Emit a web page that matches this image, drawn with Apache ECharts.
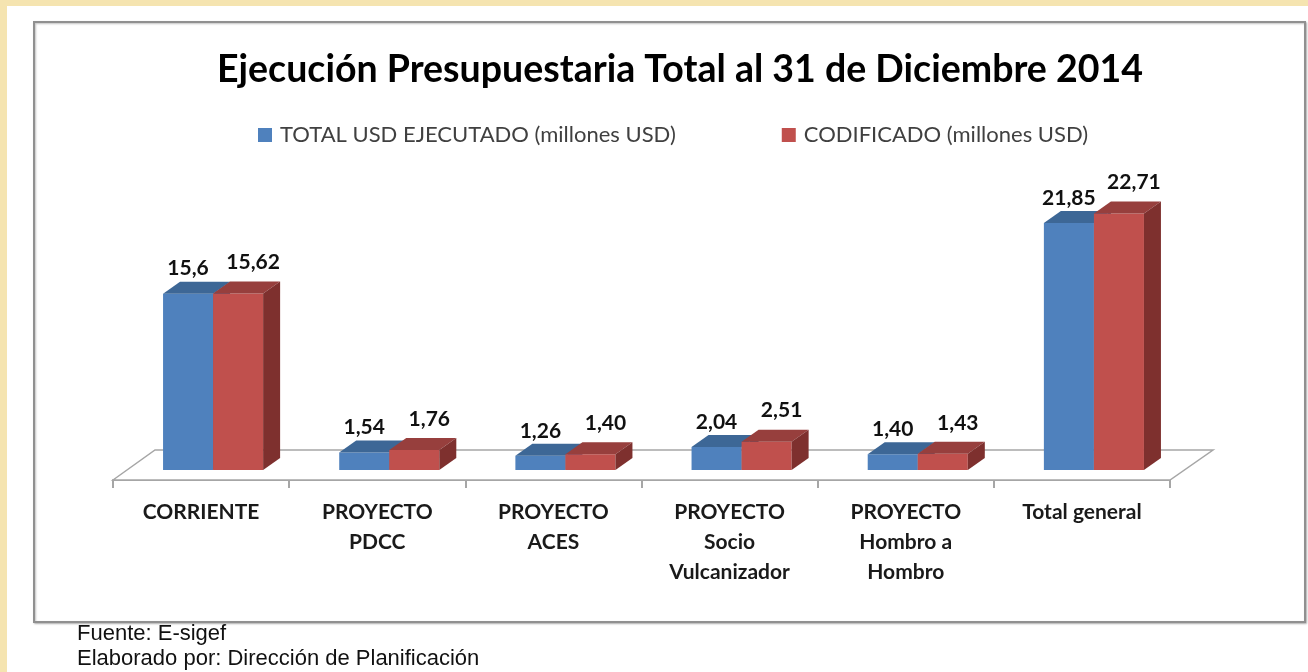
<!DOCTYPE html>
<html>
<head>
<meta charset="utf-8">
<script src="https://cdn.jsdelivr.net/npm/echarts@6/dist/echarts.min.js"></script>
<style>
  html, body { margin: 0; padding: 0; background: #f5e4b0; }
  #chart { width: 1308px; height: 672px; }
</style>
</head>
<body>
<div id="chart"></div>
<script>
// --- data ---
var categorias = ['CORRIENTE', 'PROYECTO\nPDCC', 'PROYECTO\nACES', 'PROYECTO\nSocio\nVulcanizador', 'PROYECTO\nHombro a\nHombro', 'Total general'];
var ejecutado = [15.6, 1.54, 1.26, 2.04, 1.40, 21.85];
var codificado = [15.62, 1.76, 1.40, 2.51, 1.43, 22.71];
var ejecutadoTxt = ['15,6', '1,54', '1,26', '2,04', '1,40', '21,85'];
var codificadoTxt = ['15,62', '1,76', '1,40', '2,51', '1,43', '22,71'];
var nombres = ['TOTAL USD EJECUTADO (millones USD)', 'CODIFICADO (millones USD)'];

// colours: front, top, side
var azul = ['#4f81bd', '#3d6796', '#37598a'];
var rojo = ['#c0504d', '#973f3d', '#7e302e'];

var chart = echarts.init(document.getElementById('chart'));

// 3D bar: front face + top + right side
function bar3d(colors, labels, second) {
  return function (params, api) {
    var i = api.value(0);
    var top = api.coord([i, api.value(1)]);
    var base = api.coord([i, 0]);
    var band = api.size([1, 0])[0];
    var bw = band * 0.284;
    var x0 = second ? top[0] : top[0] - bw;
    var x1 = x0 + bw;
    var dx = 17, dy = 12;
    return {
      type: 'group',
      children: [
        { type: 'rect', shape: { x: x0, y: top[1], width: bw, height: base[1] - top[1] },
          style: { fill: colors[0] } },
        { type: 'polygon', shape: { points: [[x0, top[1]], [x0 + dx, top[1] - dy], [x1 + dx, top[1] - dy], [x1, top[1]]] },
          style: { fill: colors[1] } },
        { type: 'polygon', shape: { points: [[x1, top[1]], [x1 + dx, top[1] - dy], [x1 + dx, base[1] - dy], [x1, base[1]]] },
          style: { fill: colors[2] } },
        { type: 'text', x: (x0 + x1) / 2 + (second ? 15 : 0), y: top[1] - (second ? 31 : 25),
          style: { text: labels[i], fill: '#111', font: 'bold 21px Lato', align: 'center', verticalAlign: 'middle' } }
      ]
    };
  };
}

// floor of the 3D plot
function floor(params, api) {
  var band = api.size([1, 0])[0];
  var l = api.coord([0, 0]);
  var r = api.coord([categorias.length - 1, 0]);
  var lx = l[0] - band / 2, rx = r[0] + band / 2, y0 = l[1];
  return {
    type: 'polygon',
    shape: { points: [[lx - 12, y0 + 10], [lx + 30, y0 - 20], [rx + 31, y0 - 20], [rx - 12, y0 + 10]] },
    style: { fill: '#fff', stroke: '#a6a6a6', lineWidth: 1.5 }
  };
}

chart.setOption({
  backgroundColor: '#f5e4b0',
  color: [azul[0], rojo[0]],
  graphic: [
    { type: 'rect', shape: { x: 7, y: 6, width: 1310, height: 680 }, style: { fill: '#fff' }, z: -10 },
    { type: 'rect', shape: { x: 34, y: 22, width: 1271, height: 600 },
      style: { fill: '#fff', stroke: '#909090', lineWidth: 2, shadowBlur: 2, shadowColor: 'rgba(0,0,0,0.25)', shadowOffsetX: 1, shadowOffsetY: 1 }, z: -9 },
    { type: 'text', left: 77, top: 623, style: { text: 'Fuente: E-sigef', font: '22px "Liberation Sans"', fill: '#111' } },
    { type: 'text', left: 77, top: 648, style: { text: 'Elaborado por: Dirección de Planificación', font: '22px "Liberation Sans"', fill: '#111' } }
  ],
  title: {
    text: 'Ejecución Presupuestaria Total al 31 de Diciembre 2014',
    left: 675, top: 46, textAlign: 'center',
    textStyle: { fontFamily: 'Lato', fontWeight: 'bold', fontSize: 37.5, color: '#000' }
  },
  legend: {
    data: nombres,
    left: 253, top: 119,
    icon: 'rect', itemWidth: 14, itemHeight: 14, itemGap: 106, itemStyle: { borderWidth: 0 },
    textStyle: { fontFamily: 'Lato', fontSize: 22, color: '#404040', padding: [0, 0, 0, 3] }
  },
  grid: [
    { left: 125, right: 126, top: 187.5, bottom: 202 },
    { left: 113, right: 138, top: 187.5, bottom: 192 }
  ],
  xAxis: [
    { type: 'category', data: categorias, gridIndex: 0, show: false },
    { type: 'category', data: categorias, gridIndex: 1,
      axisLine: { show: true, lineStyle: { color: '#a6a6a6', width: 2 } },
      axisTick: { show: true, length: 8, lineStyle: { color: '#a6a6a6', width: 2 } },
      axisLabel: { margin: 17, fontFamily: 'Lato', fontWeight: 'bold', fontSize: 21, lineHeight: 30, color: '#1a1a1a', interval: 0 } }
  ],
  yAxis: [
    { type: 'value', min: 0, max: 25, gridIndex: 0, show: false },
    { type: 'value', min: 0, max: 25, gridIndex: 1, show: false }
  ],
  series: [
    { type: 'custom', name: 'piso', silent: true, z: 1, data: [[0, 0]], renderItem: floor },
    { type: 'custom', name: nombres[0], z: 2, itemStyle: { color: azul[0] },
      data: ejecutado.map(function (v, i) { return [i, v]; }), renderItem: bar3d(azul, ejecutadoTxt, false) },
    { type: 'custom', name: nombres[1], z: 3, itemStyle: { color: rojo[0] },
      data: codificado.map(function (v, i) { return [i, v]; }), renderItem: bar3d(rojo, codificadoTxt, true) }
  ]
});
</script>
</body>
</html>
